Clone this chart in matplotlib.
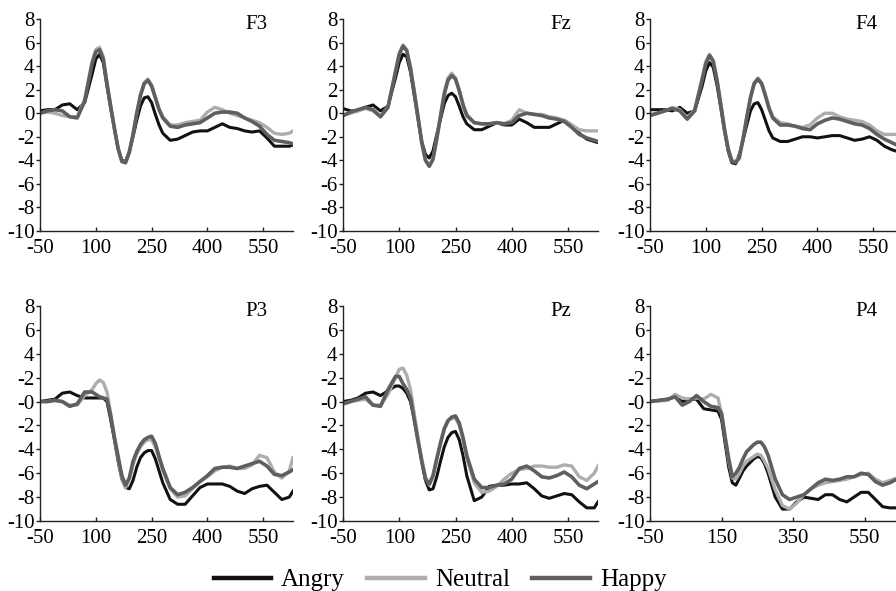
import matplotlib
matplotlib.use("Agg")
import matplotlib.pyplot as plt
from matplotlib.lines import Line2D

plt.rcParams['font.family'] = ['Liberation Serif', 'DejaVu Serif']

# Time points (ms) for the panels that share the -50..630 axis
T = [-50, -30, -10, 10, 30, 50, 70, 90,
     100, 110, 120, 130, 140, 150, 160, 170, 180, 190, 200, 210, 220, 230, 240, 250, 260, 270, 280,
     300, 320, 340, 360, 380, 400, 420, 440, 460, 480, 500, 520, 540, 560, 580, 600, 620,
     630]
# Time points (ms) for P4
T4 = [-50, 0, 20, 40, 60, 80, 100, 120, 140,
      150, 160, 170, 180, 190, 200, 210, 220,
      240, 250, 260, 270, 280,
      300, 320, 340, 360, 380, 400, 420, 440, 460, 480, 500, 520, 540, 560, 580, 600, 620, 640]

conditions = ["Angry", "Neutral", "Happy"]
colors = {"Angry": "#111111", "Neutral": "#adadad", "Happy": "#5f5f5f"}
widths = {"Angry": 2.2, "Neutral": 2.4, "Happy": 2.6}

F3_angry = [0.2, 0.3, 0.3, 0.7, 0.8, 0.3, 0.9, 3.3,
            4.6, 5.0, 4.3, 2.3, 0.4, -1.3, -3.0, -4.0, -4.1, -3.3, -2.0, -0.6, 0.6, 1.3, 1.4, 0.9, -0.1, -1.0, -1.7,
            -2.3, -2.2, -1.9, -1.6, -1.5, -1.5, -1.2, -0.9, -1.2, -1.3, -1.5, -1.6, -1.5, -2.1, -2.8, -2.8, -2.8,
            -2.7]
F3_neutral = [0.0, 0.1, 0.0, -0.2, -0.3, -0.3, 1.2, 4.4,
              5.4, 5.6, 4.8, 2.6, 0.6, -1.3, -3.0, -4.1, -4.2, -3.3, -1.8, 0.0, 1.6, 2.6, 2.9, 2.4, 1.4, 0.4, -0.3,
              -1.0, -1.0, -0.8, -0.7, -0.6, 0.1, 0.5, 0.3, 0.0, -0.2, -0.4, -0.6, -0.8, -1.2, -1.7, -1.8, -1.7,
              -1.5]
F3_happy = [0.0, 0.2, 0.3, 0.2, -0.3, -0.4, 1.0, 4.2,
            5.2, 5.4, 4.6, 2.5, 0.6, -1.3, -3.0, -4.1, -4.2, -3.3, -1.8, 0.0, 1.5, 2.5, 2.8, 2.3, 1.3, 0.3, -0.4,
            -1.1, -1.2, -1.0, -0.9, -0.8, -0.4, 0.0, 0.1, 0.1, 0.0, -0.4, -0.7, -1.1, -1.8, -2.3, -2.4, -2.5,
            -2.6]

Fz_angry = [0.4, 0.2, 0.2, 0.5, 0.7, 0.2, 0.6, 3.0,
            4.3, 5.0, 4.8, 3.5, 1.5, -0.5, -2.4, -3.5, -3.8, -3.2, -1.8, -0.5, 0.8, 1.5, 1.7, 1.4, 0.6, -0.3, -0.9,
            -1.4, -1.4, -1.1, -0.8, -1.0, -1.0, -0.5, -0.8, -1.2, -1.2, -1.2, -0.9, -0.6, -1.0, -1.7, -2.2, -2.4,
            -2.5]
Fz_neutral = [-0.2, 0.0, 0.2, 0.4, 0.2, -0.3, 0.6, 3.6,
              5.1, 5.8, 5.4, 3.9, 1.8, -0.3, -2.5, -4.0, -4.5, -3.9, -2.1, -0.1, 1.8, 3.0, 3.4, 3.0, 2.0, 0.8, -0.1,
              -0.8, -0.9, -0.9, -0.8, -0.9, -0.6, 0.3, 0.0, -0.1, -0.1, -0.3, -0.4, -0.6, -1.0, -1.4, -1.5, -1.5,
              -1.5]
Fz_happy = [-0.2, 0.1, 0.3, 0.5, 0.3, -0.3, 0.5, 3.5,
            5.0, 5.7, 5.3, 3.8, 1.8, -0.3, -2.5, -4.0, -4.5, -3.9, -2.2, -0.3, 1.6, 2.8, 3.2, 2.9, 1.9, 0.7, -0.2,
            -0.8, -0.9, -0.9, -0.8, -0.9, -0.8, -0.2, 0.0, -0.1, -0.2, -0.4, -0.5, -0.7, -1.2, -1.8, -2.1, -2.3,
            -2.4]

F4_angry = [0.3, 0.3, 0.3, 0.2, 0.5, 0.0, 0.2, 2.3,
            3.6, 4.3, 3.9, 2.4, 0.5, -1.5, -3.2, -4.2, -4.3, -3.5, -2.3, -1.0, 0.2, 0.8, 0.9, 0.3, -0.6, -1.5, -2.1,
            -2.4, -2.4, -2.2, -2.0, -2.0, -2.1, -2.0, -1.9, -1.9, -2.1, -2.3, -2.2, -2.0, -2.3, -2.8, -3.1, -3.3,
            -3.4]
F4_neutral = [-0.1, 0.0, 0.2, 0.5, 0.3, -0.4, 0.3, 3.0,
              4.4, 5.0, 4.5, 2.9, 0.8, -1.3, -3.0, -4.0, -4.1, -3.7, -2.1, -0.3, 1.4, 2.6, 3.0, 2.6, 1.6, 0.5, -0.3,
              -0.8, -0.9, -1.1, -1.2, -1.0, -0.4, 0.0, 0.0, -0.3, -0.5, -0.6, -0.7, -1.0, -1.5, -1.8, -1.8, -1.8,
              -1.8]
F4_happy = [-0.2, 0.0, 0.2, 0.4, 0.2, -0.5, 0.2, 2.8,
            4.2, 4.9, 4.4, 2.8, 0.8, -1.3, -3.0, -4.1, -4.2, -3.8, -2.2, -0.4, 1.3, 2.5, 2.9, 2.5, 1.5, 0.4, -0.4,
            -1.0, -1.0, -1.1, -1.3, -1.4, -0.9, -0.6, -0.4, -0.5, -0.7, -0.9, -1.0, -1.3, -1.8, -2.2, -2.5, -2.8,
            -2.9]

P3_angry = [0.0, 0.1, 0.2, 0.7, 0.8, 0.5, 0.3, 0.3,
            0.3, 0.3, 0.3, 0.0, -1.5, -3.2, -5.0, -6.5, -7.2, -7.3, -6.6, -5.5, -4.7, -4.3, -4.1, -4.1, -4.8, -5.8, -6.8,
            -8.2, -8.6, -8.6, -7.9, -7.2, -6.9, -6.9, -6.9, -7.1, -7.5, -7.7, -7.3, -7.1, -7.0, -7.6, -8.2, -8.0,
            -7.5]
P3_neutral = [0.0, 0.0, 0.1, 0.0, -0.3, -0.3, 0.5, 1.0,
              1.5, 1.8, 1.6, 0.8, -1.0, -3.0, -4.8, -6.4, -7.2, -6.5, -5.3, -4.4, -3.8, -3.4, -3.2, -3.2, -3.8, -4.8, -5.8,
              -7.3, -8.0, -7.9, -7.3, -6.7, -6.3, -5.8, -5.5, -5.4, -5.6, -5.6, -5.3, -4.5, -4.7, -5.9, -6.4, -5.8,
              -4.7]
P3_happy = [0.0, 0.0, 0.1, 0.0, -0.4, -0.2, 0.8, 0.8,
            0.6, 0.4, 0.3, 0.2, -1.2, -3.0, -4.6, -6.2, -7.0, -6.4, -5.0, -4.2, -3.6, -3.2, -3.0, -2.9, -3.5, -4.6, -5.6,
            -7.2, -7.8, -7.6, -7.2, -6.7, -6.2, -5.6, -5.5, -5.5, -5.6, -5.4, -5.2, -5.0, -5.4, -6.1, -6.2, -5.9,
            -5.7]

Pz_angry = [0.0, 0.1, 0.3, 0.7, 0.8, 0.5, 0.9, 1.3,
            1.3, 1.1, 0.7, 0.0, -1.5, -3.2, -5.0, -6.6, -7.4, -7.3, -6.3, -5.0, -3.8, -3.0, -2.6, -2.5, -3.2, -4.5, -6.2,
            -8.3, -8.0, -7.1, -7.0, -7.0, -6.9, -6.9, -6.8, -7.3, -7.9, -8.1, -7.9, -7.7, -7.8, -8.4, -8.9, -8.9,
            -8.4]
Pz_neutral = [-0.2, 0.0, 0.1, 0.2, -0.3, -0.3, 0.6, 2.0,
              2.7, 2.8, 2.2, 1.0, -1.0, -3.0, -4.8, -6.3, -7.0, -6.3, -4.8, -3.4, -2.2, -1.6, -1.4, -1.4, -2.0, -3.2, -4.7,
              -6.8, -7.6, -7.5, -7.1, -6.5, -6.0, -5.7, -5.6, -5.4, -5.4, -5.5, -5.5, -5.3, -5.4, -6.3, -6.6, -6.0,
              -5.4]
Pz_happy = [-0.2, 0.0, 0.2, 0.4, -0.3, -0.4, 1.0, 2.1,
            2.1, 1.5, 1.0, 0.3, -1.5, -3.3, -5.0, -6.5, -6.9, -6.2, -4.8, -3.5, -2.3, -1.6, -1.3, -1.2, -1.8, -3.0, -4.5,
            -6.5, -7.2, -7.2, -7.0, -6.9, -6.5, -5.6, -5.4, -5.8, -6.3, -6.4, -6.2, -5.9, -6.3, -7.0, -7.3, -6.9,
            -6.7]

P4_angry = [0.0, 0.2, 0.4, 0.0, 0.2, 0.2, -0.6, -0.7, -0.8,
            -1.5, -3.5, -5.5, -6.8, -7.0, -6.4, -5.8, -5.4,
            -4.8, -4.6, -4.7, -5.2, -6.0,
            -8.0, -9.0, -9.0, -8.4, -8.0, -8.1, -8.2, -7.8, -7.8, -8.2, -8.4, -8.0, -7.6, -7.6, -8.2, -8.8, -8.9, -8.9]
P4_neutral = [0.0, 0.1, 0.6, 0.3, 0.2, 0.3, 0.2, 0.6, 0.3,
              -1.0, -3.0, -5.0, -6.4, -6.5, -6.0, -5.4, -5.0,
              -4.6, -4.4, -4.5, -5.0, -5.6,
              -7.4, -8.7, -9.0, -8.5, -7.8, -7.3, -7.0, -6.8, -6.7, -6.6, -6.5, -6.3, -6.1, -6.0, -6.5, -6.8, -6.6, -6.4]
P4_happy = [0.0, 0.2, 0.4, -0.3, 0.0, 0.5, 0.0, -0.4, -0.5,
            -1.0, -3.0, -4.8, -6.3, -6.0, -5.5, -4.8, -4.2,
            -3.6, -3.4, -3.4, -3.8, -4.5,
            -6.5, -7.8, -8.2, -8.0, -7.8, -7.3, -6.8, -6.5, -6.6, -6.5, -6.3, -6.3, -6.0, -6.1, -6.7, -7.0, -6.8, -6.5]

yticks = [8, 6, 4, 2, 0, -2, -4, -6, -8, -10]
ytick_labels_top = ["8", "6", "4", "2", "0", "-2", "-4", "-6", "-8", "-10"]
ytick_labels_bottom = ["8", "6", "4", "-2", "-0", "-2", "-4", "-6", "-8", "-10"]
xticks_std = [-50, 100, 250, 400, 550]
xticks_p4 = [-50, 150, 350, 550]

panels = [
    ("F3", T, (F3_angry, F3_neutral, F3_happy), xticks_std, (-50, 630), ytick_labels_top),
    ("Fz", T, (Fz_angry, Fz_neutral, Fz_happy), xticks_std, (-50, 630), ytick_labels_top),
    ("F4", T, (F4_angry, F4_neutral, F4_happy), xticks_std, (-50, 630), ytick_labels_top),
    ("P3", T, (P3_angry, P3_neutral, P3_happy), xticks_std, (-50, 630), ytick_labels_bottom),
    ("Pz", T, (Pz_angry, Pz_neutral, Pz_happy), xticks_std, (-50, 630), ytick_labels_bottom),
    ("P4", T4, (P4_angry, P4_neutral, P4_happy), xticks_p4, (-50, 657), ytick_labels_bottom),
]

W, H = 896, 591
fig = plt.figure(figsize=(W / 100, H / 100), dpi=100)

lefts = [40, 343, 650]
widths_px = [253, 255, 253]
rows = [(231, 212), (521, 215)]  # (bottom pixel, height)

for i, (name, t, series, xt, xl, ylabels) in enumerate(panels):
    r, c = divmod(i, 3)
    bottom_px, h_px = rows[r]
    ax = fig.add_axes([lefts[c] / W, (H - bottom_px) / H, widths_px[c] / W, h_px / H])
    for cond, vals in zip(conditions, series):
        ax.plot(t, vals, color=colors[cond], lw=widths[cond], solid_joinstyle='round')
    ax.set_xlim(*xl)
    ax.set_ylim(-10, 8)
    ax.set_yticks(yticks)
    ax.set_yticklabels(ylabels)
    ax.set_xticks(xt)
    ax.set_xticklabels([str(v) for v in xt])
    for s in ("top", "right"):
        ax.spines[s].set_visible(False)
    for s in ("left", "bottom"):
        ax.spines[s].set_linewidth(1.0)
        ax.spines[s].set_color("#222222")
    ax.tick_params(axis='y', direction='out', length=3, width=1, labelsize=15, pad=1, colors="#222222", labelcolor="black")
    ax.tick_params(axis='x', direction='in', length=3, width=1, labelsize=15, pad=6, colors="#222222", labelcolor="black")
    ax.text(0.855, 0.975, name, transform=ax.transAxes, ha='center', va='center', fontsize=15)

handles = [Line2D([0], [0], color=colors[c], lw=3.2) for c in conditions]
fig.legend(handles, conditions, loc='center', bbox_to_anchor=(440 / W, 1 - 580 / H),
           ncol=3, frameon=False, fontsize=18, handlelength=2.3, handletextpad=0.4,
           columnspacing=0.9, borderaxespad=0, borderpad=0)

fig.savefig("out.png", dpi=100)
